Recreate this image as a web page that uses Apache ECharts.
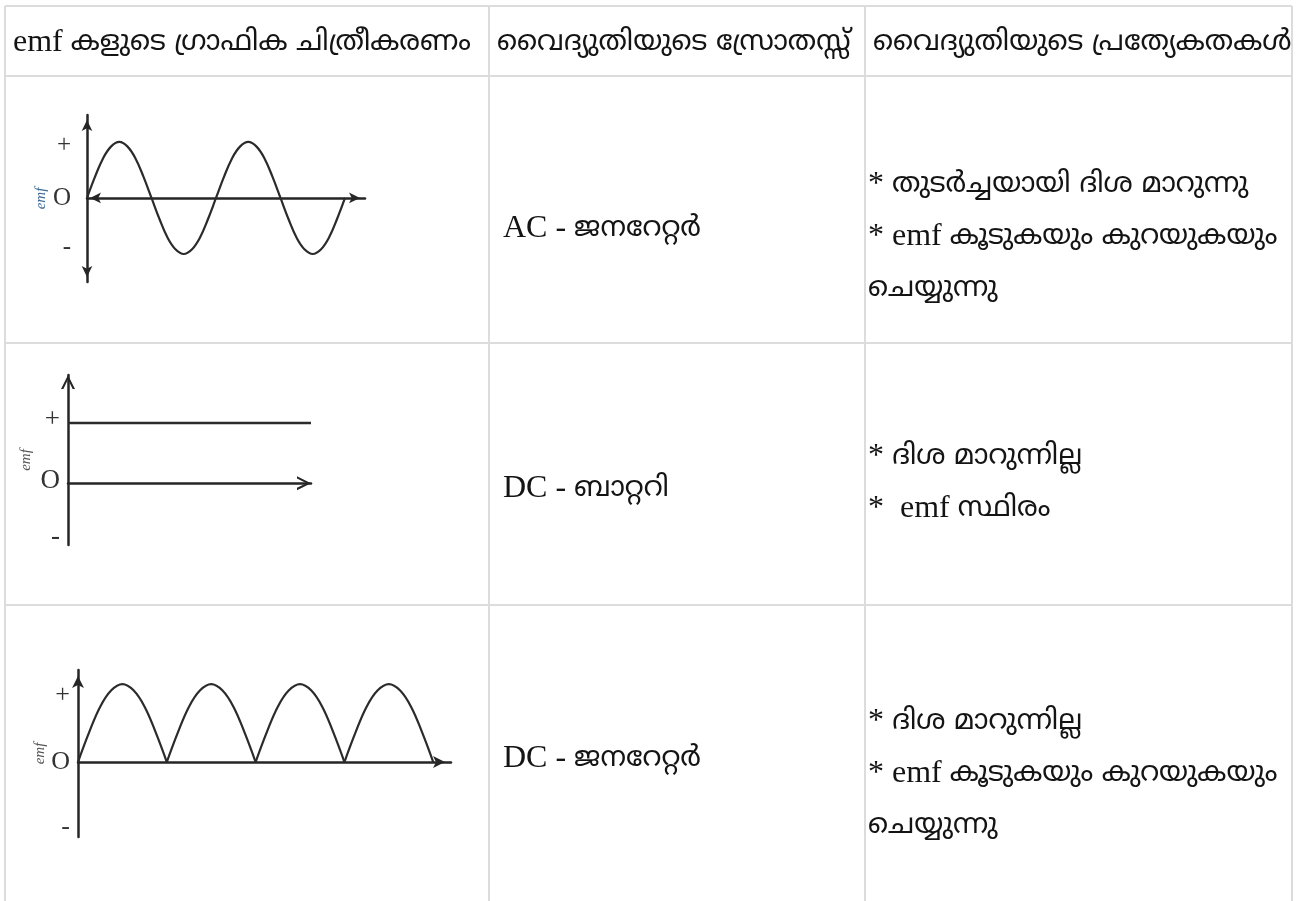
<!DOCTYPE html>
<html>
<head>
<meta charset="utf-8">
<script src="https://cdn.jsdelivr.net/npm/echarts@6/dist/echarts.min.js"></script>
<style>
  html, body { margin: 0; padding: 0; background: #ffffff; }
  #chart { width: 1296px; height: 901px; }
</style>
</head>
<body>
<div id="chart"></div>
<script>
// ---------- table text ----------
const headers = ['emf കളുടെ ഗ്രാഫിക ചിത്രീകരണം', 'വൈദ്യുതിയുടെ സ്രോതസ്സ്', 'വൈദ്യുതിയുടെ പ്രത്യേകതകൾ'];
const sources = ['AC - ജനറേറ്റർ', 'DC - ബാറ്ററി', 'DC - ജനറേറ്റർ'];
const properties = [
  ['* തുടർച്ചയായി ദിശ മാറുന്നു', '* emf കൂടുകയും കുറയുകയും', 'ചെയ്യുന്നു'],
  ['* ദിശ മാറുന്നില്ല', '*  emf സ്ഥിരം'],
  ['* ദിശ മാറുന്നില്ല', '* emf കൂടുകയും കുറയുകയും', 'ചെയ്യുന്നു']
];
const axisName = 'emf';

// ---------- AC generator: alternating emf ----------
const acTime = [0, 0.25, 0.5, 0.75, 1, 1.25, 1.5, 1.75, 2, 2.25, 2.5, 2.75, 3, 3.25, 3.5, 3.75, 4,
                4.25, 4.5, 4.75, 5, 5.25, 5.5, 5.75, 6, 6.25, 6.5, 6.75, 7, 7.25, 7.5, 7.75, 8];
const acEmf = [0, 0.38, 0.71, 0.92, 1, 0.92, 0.71, 0.38, 0, -0.38, -0.71, -0.92, -1, -0.92, -0.71, -0.38, 0,
               0.38, 0.71, 0.92, 1, 0.92, 0.71, 0.38, 0, -0.38, -0.71, -0.92, -1, -0.92, -0.71, -0.38, 0];
const acLabels = [['+', 0.93], ['O', 0], ['-', -0.89]];

// ---------- DC battery: constant emf ----------
const batteryTime = [0, 10];
const batteryEmf = [1, 1];
const batteryLabels = [['+', 1.05], ['O', 0.03], ['-', -0.9]];

// ---------- DC generator: pulsating emf ----------
const dcGenTime = [
  [0, 0.5, 1, 1.5, 2, 2.5, 3, 3.5, 4],
  [4, 4.5, 5, 5.5, 6, 6.5, 7, 7.5, 8],
  [8, 8.5, 9, 9.5, 10, 10.5, 11, 11.5, 12],
  [12, 12.5, 13, 13.5, 14, 14.5, 15, 15.5, 16]
];
const dcGenEmf = [
  [0, 0.38, 0.71, 0.92, 1, 0.92, 0.71, 0.38, 0],
  [0, 0.38, 0.71, 0.92, 1, 0.92, 0.71, 0.38, 0],
  [0, 0.38, 0.71, 0.92, 1, 0.92, 0.71, 0.38, 0],
  [0, 0.38, 0.71, 0.92, 1, 0.92, 0.71, 0.38, 0]
];
const dcGenLabels = [['+', 0.86], ['O', 0], ['-', -0.83]];

// ---------- layout / styles ----------
const SERIF = "'Liberation Serif', 'DejaVu Serif', serif";
const MAL = "'Noto Sans Malayalam', 'Noto Sans', sans-serif";
const TXT = '#141414';
const LINE = '#dcdcdc';
const CURVE = '#2b2b2b';
const chevron = 'path://M0,10 L5,0 L10,10 L8.3,10 L5,3.2 L1.7,10 Z';

function zip(xs, ys) { return xs.map((x, i) => [x, ys[i]]); }
function labelFormatter(list) {
  return function (v) {
    for (const [t, val] of list) if (Math.abs(v - val) < 1e-6) return t;
    return '';
  };
}
// split a string into latin / malayalam runs and wrap in rich tags
function toRich(str) {
  const isMal = c => /[\u0D00-\u0D7F\u200C\u200D]/.test(c);
  let out = '', cur = '', kind = null;
  for (const c of str) {
    let k = isMal(c) ? 'm' : (c === ' ' && kind ? kind : 'l');
    if (kind && k !== kind) { out += `{${kind}|${cur}}`; cur = ''; }
    kind = k; cur += c;
  }
  if (cur) out += `{${kind}|${cur}}`;
  return out;
}
const richStyles = {
  l: { font: `32px ${SERIF}`, fill: TXT, verticalAlign: 'bottom', lineHeight: 36 },
  m: { font: `28px ${MAL}`, fill: TXT, verticalAlign: 'bottom', lineHeight: 36 }
};

const tableLines = [];
const hLinesY = [6, 76, 343, 605];
const vLinesX = [5, 489, 865, 1292];
hLinesY.forEach(y => tableLines.push({ type: 'line', shape: { x1: 5, y1: y, x2: 1292, y2: y }, style: { stroke: LINE, lineWidth: 2 }, silent: true }));
vLinesX.forEach(x => tableLines.push({ type: 'line', shape: { x1: x, y1: 6, x2: x, y2: 901 }, style: { stroke: LINE, lineWidth: 2 }, silent: true }));

const texts = [];
function addText(str, x, y) {
  texts.push({ type: 'text', x: x, y: y, silent: true, style: { text: toRich(str), rich: richStyles, verticalAlign: 'middle', align: 'left' } });
}
const headerX = [13, 497, 873];
headers.forEach((h, i) => addText(h, headerX[i], 41));
const sourceY = [227, 487, 757];
sources.forEach((s, i) => addText(s, 503, sourceY[i]));
const propY = [[183, 235, 287], [455, 507], [720, 772, 824]];
properties.forEach((lines, r) => lines.forEach((l, k) => addText(l, 868, propY[r][k])));

function xAx(gi, max, sym, size, off) {
  return {
    gridIndex: gi, type: 'value', min: 0, max: max,
    axisLine: { show: true, onZero: true, symbol: sym, symbolSize: size, symbolOffset: off, lineStyle: { color: '#262626', width: 2.5 } },
    axisTick: { show: false }, axisLabel: { show: false }, splitLine: { show: false }
  };
}
function yAx(gi, min, max, sym, size, off, labels, fontSize, nameColor, nameGap, margin) {
  return {
    gridIndex: gi, type: 'value', min: min, max: max,
    name: axisName, nameLocation: 'middle', nameRotate: 90, nameGap: nameGap,
    nameTextStyle: { fontFamily: SERIF, fontStyle: 'italic', fontSize: 15, color: nameColor },
    axisLine: { show: true, onZero: false, symbol: sym, symbolSize: size, symbolOffset: off, lineStyle: { color: '#262626', width: 2.5 } },
    axisTick: { show: false }, splitLine: { show: false },
    axisLabel: { show: true, customValues: labels.map(l => l[1]), formatter: labelFormatter(labels), fontFamily: SERIF, fontSize: fontSize, color: '#333', margin: margin }
  };
}

const option = {
  backgroundColor: '#ffffff',
  animation: false,
  grid: [
    { left: 87, top: 115, width: 278, height: 167 },
    { left: 68, top: 375, width: 243, height: 170 },
    { left: 78, top: 670, width: 373, height: 167 }
  ],
  xAxis: [
    xAx(0, 8.62, ['arrow', 'arrow'], [8, 11], [3, -5]),
    xAx(1, 10, ['none', chevron], [15, 14], [0, -7]),
    xAx(2, 16.8, ['none', 'arrow'], [9, 12], [0, -6])
  ],
  yAxis: [
    yAx(0, -1.5, 1.48, ['arrow', 'arrow'], [8, 11], [5, -5], acLabels, 25, '#3d6a96', 38, 16),
    yAx(1, -1.03, 1.8, ['none', chevron], [15, 14], [0, -7], batteryLabels, 27, '#555', 34, 8),
    yAx(2, -0.96, 1.18, ['none', 'arrow'], [9, 12], [0, -6], dcGenLabels, 26, '#555', 28, 8)
  ],
  series: [
    { type: 'line', xAxisIndex: 0, yAxisIndex: 0, data: zip(acTime, acEmf), smooth: 0.4, showSymbol: false, lineStyle: { color: CURVE, width: 2.2 }, silent: true },
    { type: 'line', xAxisIndex: 1, yAxisIndex: 1, data: zip(batteryTime, batteryEmf), showSymbol: false, clip: false, lineStyle: { color: CURVE, width: 2.5 }, silent: true }
  ].concat(dcGenTime.map((t, i) => ({
    type: 'line', xAxisIndex: 2, yAxisIndex: 2, data: zip(t, dcGenEmf[i]), smooth: 0.4, showSymbol: false, lineStyle: { color: CURVE, width: 2.2 }, silent: true
  }))),
  graphic: tableLines.concat(texts)
};

const chart = echarts.init(document.getElementById('chart'), null, { renderer: 'canvas' });
chart.setOption(option);
</script>
</body>
</html>
